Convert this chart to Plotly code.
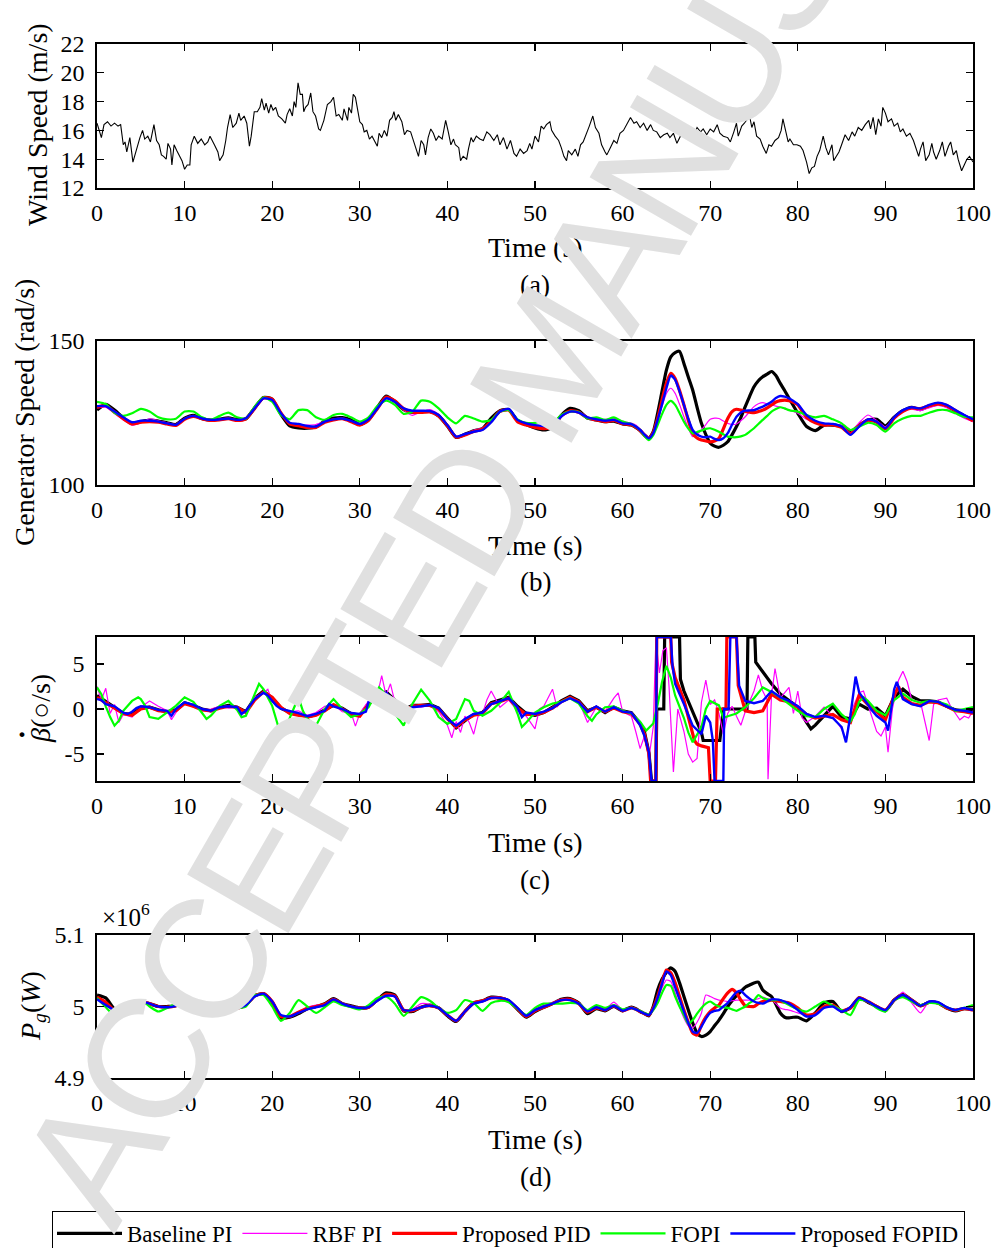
import plotly.graph_objects as go

# ---------------- data ----------------
NAMES = ["Baseline PI", "RBF PI", "Proposed PID", "FOPI", "Proposed FOPID"]
COLORS = ["#000000", "#ff00ff", "#ff0000", "#00ff00", "#0000ff"]
WIDTHS = [3.2, 1.2, 3.2, 2.2, 2.4]

X_TICKS = [0, 10, 20, 30, 40, 50, 60, 70, 80, 90, 100]

# wind speed (m/s): (time, value)
WIND = [(0,16.5),(0.3,15.8),(0.5,15.5),(0.8,16.4),(1.2,16.6),(1.6,16.3),(2.0,16.5),(2.4,16.3),(2.7,16.4),(3.0,15.0),
(3.2,15.2),(3.4,14.5),(3.75,15.5),(4.1,13.8),(4.5,14.7),(4.9,15.5),(5.2,16.0),(5.45,15.4),(5.8,15.6),(6.1,15.2),
(6.5,16.4),(6.8,15.3),(7.1,15.0),(7.35,14.3),(7.6,14.2),(7.9,14.0),(8.1,15.1),(8.4,14.7),(8.55,13.6),(8.8,15.0),
(9.1,14.6),(9.4,14.2),(9.7,13.9),(10.0,13.3),(10.3,13.6),(10.6,13.6),(10.75,15.0),(11.1,15.6),(11.5,15.1),(11.9,15.4),
(12.3,15.0),(12.65,15.2),(12.9,15.6),(13.4,15.0),(13.8,14.5),(14.0,13.9),(14.4,14.3),(14.7,15.3),(14.9,16.2),(15.2,17.1),
(15.5,16.2),(15.9,16.5),(16.2,17.2),(16.4,16.7),(16.8,17.0),(17.1,16.5),(17.2,15.9),(17.4,14.9),(17.6,15.6),(17.95,17.3),
(18.3,17.3),(18.6,17.6),(18.8,18.2),(19.1,17.4),(19.3,17.9),(19.6,17.2),(19.85,17.8),(20.1,17.4),(20.4,17.6),(20.7,17.0),
(21.1,16.8),(21.5,16.5),(21.7,17.1),(22.0,17.5),(22.3,17.0),(22.5,18.0),(22.7,17.6),(22.95,19.3),(23.2,18.5),(23.45,18.5),
(23.6,17.3),(23.8,17.6),(24.1,17.8),(24.4,18.6),(24.65,17.3),(24.95,17.0),(25.3,16.1),(25.5,16.0),(25.9,16.7),(26.3,17.8),
(26.7,18.0),(27.0,18.3),(27.3,17.0),(27.6,17.1),(28.0,16.7),(28.2,17.5),(28.6,16.7),(28.75,17.6),(29.05,17.2),(29.25,18.5),
(29.5,18.3),(29.8,17.1),(30.0,16.6),(30.3,16.4),(30.5,15.9),(30.8,16.0),(31.1,15.4),(31.4,15.6),(31.7,15.2),(32.0,14.9),
(32.2,15.8),(32.5,15.5),(32.8,16.0),(33.1,15.6),(33.4,16.7),(33.7,16.9),(33.9,17.3),(34.1,16.7),(34.4,17.1),(34.8,16.6),
(35.1,15.7),(35.4,16.0),(35.8,15.9),(36.1,15.3),(36.4,14.7),(36.7,14.2),(37.0,15.3),(37.3,15.0),(37.5,14.3),(37.8,15.5),
(38.1,16.1),(38.4,15.8),(38.7,15.3),(39.0,15.6),(39.4,15.4),(39.8,16.7),(40.1,15.9),(40.4,15.0),(40.7,15.4),(40.9,15.0),
(41.3,14.8),(41.5,13.9),(41.8,14.2),(42.2,14.0),(42.4,14.7),(42.7,15.5),(42.95,15.2),(43.3,15.6),(43.7,15.4),(44.1,15.3),
(44.5,15.9),(44.85,15.7),(45.3,15.3),(45.7,15.7),(46.0,15.0),(46.4,15.5),(46.8,14.7),(47.2,15.3),(47.6,14.4),(47.9,14.2),
(48.3,14.7),(48.7,14.4),(49.1,14.6),(49.4,15.1),(49.65,14.7),(50.0,15.6),(50.4,15.2),(50.7,16.3),(51.0,16.1),(51.3,16.4),
(51.7,16.6),(51.9,16.0),(52.3,15.6),(52.7,15.3),(53.0,14.8),(53.3,14.2),(53.6,13.9),(53.8,14.6),(54.2,14.3),(54.6,14.7),
(54.9,14.2),(55.2,15.0),(55.5,15.2),(55.9,15.8),(56.2,16.3),(56.6,17.0),(56.9,16.2),(57.3,15.8),(57.6,15.0),(58.0,14.5),
(58.2,14.3),(58.6,14.8),(59.0,15.3),(59.35,15.1),(59.7,15.8),(60.1,16.0),(60.5,16.4),(60.9,16.9),(61.3,16.5),(61.6,16.6),
(62.0,16.2),(62.4,16.5),(62.8,16.0),(63.2,16.4),(63.5,16.0),(63.9,15.9),(64.3,15.5),(64.7,15.7),(65.1,15.8),(65.4,15.5),
(65.8,15.8),(66.2,15.1),(66.6,15.6),(67.0,15.9),(67.3,15.8),(67.7,16.0),(68.1,15.6),(68.5,16.2),(68.9,15.9),(69.2,16.1),
(69.6,15.7),(70.0,16.1),(70.4,15.9),(70.8,16.4),(71.1,15.8),(71.5,15.6),(72.0,15.5),(72.3,15.2),(72.7,15.9),(73.0,16.5),
(73.2,15.6),(73.6,16.3),(73.9,16.5),(74.2,16.8),(74.5,17.0),(74.75,16.2),(75.0,16.6),(75.3,15.6),(75.7,15.4),(76.0,14.9),
(76.4,14.4),(76.7,15.0),(77.0,14.9),(77.4,15.3),(77.8,15.5),(78.1,16.0),(78.3,16.8),(78.6,16.0),(78.9,15.2),(79.1,15.4),
(79.5,15.0),(79.9,15.0),(80.3,14.9),(80.6,14.6),(81.0,13.8),(81.3,13.0),(81.6,13.4),(81.9,13.5),(82.2,14.2),(82.5,14.6),
(82.9,15.6),(83.2,14.8),(83.5,14.3),(83.9,15.0),(84.1,13.9),(84.4,14.2),(84.7,14.5),(85.0,15.0),(85.4,15.7),(85.8,15.3),
(86.2,15.9),(86.5,15.6),(86.9,16.2),(87.3,16.0),(87.7,16.4),(88.1,16.7),(88.3,16.1),(88.6,16.9),(88.9,15.7),(89.2,16.8),
(89.5,16.3),(89.7,17.6),(90.0,17.2),(90.3,16.6),(90.7,16.8),(91.0,16.3),(91.4,16.5),(91.7,15.9),(92.0,16.1),(92.4,15.6),
(92.8,15.8),(93.2,15.3),(93.5,14.8),(93.8,14.2),(94.0,14.7),(94.3,15.2),(94.6,13.9),(95.0,14.3),(95.3,15.1),(95.5,14.5),
(95.8,14.0),(96.2,14.6),(96.5,15.2),(96.8,14.2),(97.2,14.9),(97.45,15.2),(97.75,14.3),(98.1,14.6),(98.3,14.0),(98.7,13.2),
(99.0,13.6),(99.3,14.0),(99.6,14.2),(100,13.8)]

# common time grid for panels (b) and (d)
T_GRID = list(range(0, 60)) + [60 + 0.5 * i for i in range(41)] + list(range(81, 101))

# generator speed (rad/s)
B_BLACK = [126.0,128.0,126.0,123.3,121.3,122.0,122.5,122.2,121.6,121.0,
123.2,124.2,123.0,122.5,122.9,123.3,122.7,123.0,126.8,130.4,
129.8,124.5,120.5,119.8,119.7,120.2,122.2,123.2,123.4,122.6,
121.0,122.6,126.9,130.9,129.0,126.2,125.2,125.4,125.5,124.0,
120.5,116.5,117.6,118.8,119.6,123.2,125.8,126.2,122.4,121.0,
119.8,119.1,120.0,124.2,126.6,125.8,123.2,122.6,122.0,122.2,
121.2,121.0,120.8,120.0,118.9,117.3,116.2,118.5,124.9,132.5,
139.9,144.5,146.0,146.4,142.2,137.5,133.0,127.0,121.4,117.5,
114.5,113.5,113.1,113.8,115.0,117.5,120.3,123.5,127.2,130.8,
134.1,136.2,137.6,138.5,139.4,138.0,135.3,132.8,130.1,127.5,
124.9,
120.3,118.9,120.8,120.8,120.3,118.5,120.8,122.6,122.8,120.5,
123.5,125.8,127.0,126.2,127.4,128.1,127.4,125.5,124.0,122.6]
B_MAG = [126.8,127.0,124.8,122.6,120.8,121.6,123.0,122.3,121.6,121.0,
123.0,123.8,123.2,122.6,122.8,123.2,122.6,123.3,126.4,129.8,
129.6,125.2,121.6,120.8,120.8,121.0,122.0,122.8,123.0,122.2,
121.0,122.8,126.4,130.0,129.0,126.0,124.2,125.4,126.2,124.6,
120.8,116.9,117.6,119.0,119.8,122.0,125.2,126.0,122.4,121.3,
120.6,120.4,120.4,123.6,125.2,125.0,123.2,122.4,122.8,123.2,
122.2,121.8,121.5,120.8,119.4,117.8,116.6,118.3,122.6,127.3,
131.8,133.6,131.8,128.0,123.7,119.8,116.8,117.6,119.1,121.0,
122.8,123.2,123.1,122.2,121.4,121.0,121.2,122.3,123.7,125.5,
127.2,128.2,128.6,128.2,127.8,127.4,127.0,126.5,126.0,125.5,
124.9,
122.8,121.6,121.2,121.0,120.6,118.2,121.6,124.3,122.4,120.2,
123.4,125.6,126.3,125.8,126.8,127.6,126.8,124.8,123.2,122.0]
B_RED = [127.0,127.6,125.3,123.0,121.2,121.8,122.0,121.8,121.2,120.7,
122.8,123.8,123.0,122.4,122.6,123.0,122.4,123.0,126.6,130.3,
129.8,125.0,121.2,120.6,120.0,120.0,121.8,122.6,123.0,122.0,
120.8,122.5,126.5,130.5,129.2,126.5,125.3,125.2,125.4,124.0,
120.6,116.6,117.4,118.6,119.4,122.2,125.6,126.0,122.0,120.8,
120.0,119.6,120.0,124.0,125.8,125.3,123.3,122.6,122.0,122.4,
121.3,121.1,120.9,120.1,118.9,117.3,116.2,118.2,123.1,129.5,
135.3,138.8,137.0,132.8,127.8,122.5,117.9,116.3,115.6,115.3,
115.0,115.3,116.2,119.5,123.1,125.5,126.3,126.0,125.5,125.3,
125.1,125.5,126.0,126.8,127.8,128.8,129.3,129.5,129.3,128.7,
127.8,
123.5,121.6,120.8,120.9,120.0,117.8,120.6,122.5,121.8,119.5,
123.2,125.6,126.8,126.5,127.5,128.2,127.6,125.8,124.0,122.3]
B_GRN = [128.9,128.1,125.1,124.0,124.9,126.4,125.5,123.5,122.8,123.0,
125.5,125.5,123.5,122.6,124.0,125.1,123.5,123.1,127.2,130.4,
128.9,124.3,122.8,126.0,126.0,123.5,122.6,124.3,124.7,123.5,
122.0,123.5,127.4,129.3,127.8,124.7,125.5,129.3,128.9,126.6,
123.5,121.4,124.0,123.1,122.0,122.6,125.5,126.0,122.8,121.6,
121.6,122.3,121.4,124.3,125.5,125.3,123.1,123.5,122.6,123.5,
122.0,121.6,121.2,120.3,119.1,117.0,115.6,117.3,120.8,124.6,
127.8,129.2,127.8,125.0,122.0,119.6,117.9,118.4,118.9,119.5,
119.7,119.2,118.5,117.6,116.8,116.6,116.6,116.9,117.4,118.5,
119.7,121.2,122.6,124.0,125.5,126.4,127.0,126.6,126.0,125.7,
125.5,
124.3,123.5,124.0,122.8,121.4,119.1,120.3,121.6,120.8,118.5,
121.4,123.1,124.0,124.0,125.1,126.0,126.0,124.9,123.7,123.5]
B_BLUE = [127.4,127.4,125.5,123.5,121.8,122.3,122.3,122.0,121.4,120.9,
123.0,124.0,123.1,122.6,122.8,123.1,122.6,123.2,126.6,130.1,
129.5,124.9,121.6,121.2,120.5,120.3,122.0,122.8,123.1,122.3,
121.2,122.8,126.6,130.1,128.9,126.6,125.8,125.8,125.7,124.3,
120.8,116.8,117.7,118.5,119.1,121.8,125.5,126.4,122.6,121.4,
120.8,120.5,120.2,123.8,125.5,125.1,123.5,122.8,122.3,122.6,
121.4,121.3,121.1,120.3,119.1,117.5,116.2,118.0,122.6,128.0,
133.6,138.0,136.5,132.5,127.8,123.0,119.1,117.5,116.8,116.6,
116.8,116.0,115.6,116.2,118.0,121.0,123.7,125.2,125.8,125.9,
126.0,126.6,127.2,128.0,128.9,130.2,130.9,130.7,130.1,129.2,
128.1,
124.3,122.3,121.4,121.2,120.3,117.4,120.3,122.8,122.0,119.7,
123.5,126.0,127.0,126.6,127.8,128.6,127.8,126.0,124.3,122.8]

# pitch rate (deg/s): (time, value)
C_BLACK = [(0,1.5),(1,0.9),(2,0.2),(3,-0.5),(4,-0.6),(5,0.1),(6,0.2),(7,-0.1),(8,-0.3),(9,-0.1),
(10,0.7),(11,0.4),(12,0.0),(13,-0.2),(14,0.2),(15,0.4),(16,0.2),(17,-0.3),(18,1.2),(19,2.0),
(20,1.2),(21,0.1),(22,-0.4),(23,-0.6),(24,-0.9),(25,-0.6),(26,-0.1),(27,0.4),(28,0.1),(29,-0.5),
(30,-0.7),(31,0.6),(32,1.6),(33,1.9),(34,1.0),(35,-0.1),(36,0.4),(37,0.4),(38,0.5),(39,0.1),
(40,-1.0),(41,-2.1),(42,-1.3),(43,-0.6),(44,-0.4),(45,0.7),
(46,1.0),(47,1.3),(48,0.3),(49,-0.5),(50,-0.7),(51,-0.4),(52,0.2),(53,0.9),(54,1.4),(55,0.9),
(56,-0.2),(57,0.2),(58,-0.4),(59,0.2),(60,-0.2),(61,-0.4),(62,-1.6),(62.5,-2.6),(63,-4.8),(63.3,-8),
(63.8,-8),(63.9,0),(64.7,0),(64.8,8),(66.5,8),(66.6,3.3),(67,2.0),(68,-0.3),(69,-2.6),(69.2,-3.5),
(71.1,-3.5),(71.5,0),(74.2,0),(74.3,8),(75.1,8),(75.2,5.2),(76,4.1),(77,2.8),(78,1.65),(79,0.9),
(80,0.2),(81,-1.5),(81.5,-2.2),(82,-1.8),(83,-0.75),(84,0.3),(85,-0.9),(86,-1.1),(87,0.55),(88,0.0),
(89,0.1),(90,-0.75),(91,1.3),(92,2.2),(93,1.4),(94,0.9),(95,0.9),(96,0.8),(97,0.3),(98,-0.1),
(99,-0.2),(100,-0.3)]
C_MAG = [(0,2.5),(0.5,1.0),(1,2.3),(1.5,-0.5),(2,0.5),(2.5,-1.5),(3,-0.6),(4,-0.9),(5,0.2),(6,0.9),
(7,0.3),(8,-0.2),(8.5,-1.2),(9,-0.4),(10,0.6),(11,0.2),(12,-0.1),(13,0.0),(14,0.3),(15,0.1),
(16,0.2),(17,-0.3),(18,1.3),(19,1.8),(19.5,2.2),(20,0.8),(21,0.0),(22,-0.3),(23,-0.2),(24,-0.7),
(25,-0.4),(26,0.3),(27,0.5),(28,-0.3),(29,-0.4),(29.5,-1.9),(30,-0.5),(31,0.9),(32,1.5),(32.5,3.7),
(33,1.5),(33.5,2.8),(34,0.8),(35,-0.5),(36,0.5),(37,0.2),(38,0.4),(39,-0.3),(40,-1.8),(40.5,-3.2),
(41,-1.4),(41.5,-2.6),(42,-0.8),(42.5,-1.5),(43,-2.8),(43.5,-0.8),(44,-0.6),(44.5,1.0),(45,2.0),
(46,0.2),(47,1.0),(48,-0.2),(49,-0.8),(50,-2.2),(50.5,0.0),(51,0.3),(52,2.2),(52.5,0.2),(53,0.8),
(54,1.3),(55,0.9),(56,-1.5),(57,0.2),(58,-0.3),(59,1.2),(59.5,1.8),(60,-0.3),(61,-0.8),(61.5,-2.5),
(62,-4.4),(62.5,-3.0),(63,-5.5),(63.5,-2.0),(63.8,7.8),(64.2,4.0),(64.6,6.5),(65,6.8),(65.3,2.5),(65.8,-7.0),
(66.3,0.0),(67,-2.5),(67.5,-5.0),(68,-5.9),(68.5,-5.5),(69,0.75),(69.5,3.2),(70,0.5),(70.5,1.0),(71,-0.5),
(71.5,-2.8),(72,-0.5),(72.5,0.3),(73,-0.8),(73.5,-1.8),(74,-0.3),(75,2.0),(75.5,3.8),(76,2.0),(76.5,1.0),
(76.6,-7.8),(77,1.5),(77.4,4.5),(78,1.2),(79,2.4),(79.5,-0.5),(80,2.0),(80.5,-1.0),(81,-1.5),(82,-0.8),
(83,0.2),(84,-0.8),(85,-2.2),(85.5,-3.5),(86,-0.5),(87,1.8),(87.5,2.0),(88,0.5),(88.5,-1.0),(89,-2.5),
(89.5,-3.0),(90,-2.0),(90.3,-4.8),(90.8,0.0),(91.5,3.2),(92,4.2),(92.5,3.0),(93,1.0),(94,0.8),(94.5,-1.5),
(95,-3.5),(95.5,0.5),(96,1.0),(97,1.2),(97.5,0.2),(98,-0.5),(98.5,-1.2),(99,-0.8),(99.5,-1.0),(100,-0.2)]
C_RED = [(0,1.3),(1,0.7),(2,0.1),(3,-0.5),(4,-0.7),(5,0.0),(6,0.2),(7,-0.2),(8,-0.3),(9,-0.2),
(10,0.6),(11,0.3),(12,-0.1),(13,-0.2),(14,0.1),(15,0.3),(16,0.2),(17,-0.4),(18,1.0),(19,1.9),
(20,1.3),(21,0.2),(22,-0.5),(23,-0.7),(24,-0.9),(25,-0.7),(26,-0.2),(27,0.5),(28,0.0),(29,-0.6),
(30,-0.8),(31,0.5),(32,1.5),(33,1.7),(34,0.8),(35,-0.2),(36,0.3),(37,0.4),(38,0.4),(39,0.0),
(40,-1.1),(41,-2.0),(42,-1.2),(43,-0.7),(44,-0.5),(45,0.6),
(46,0.8),(47,1.2),(48,0.1),(49,-0.6),(50,-0.6),(51,-0.4),(52,0.1),(53,0.8),(54,1.3),(55,0.8),
(56,-0.3),(57,0.2),(58,-0.3),(59,0.1),(60,-0.3),(61,-0.5),(62,-1.7),(62.5,-2.8),(63,-5.0),(63.2,-8),
(63.8,-8),(63.9,8),(65.5,8),(65.6,5.2),(66,3.5),(67,1.0),(68.2,-3.5),(68.5,-3.9),(69,-4.1),(69.8,-4.3),
(70,-8),(70.6,-8),(70.8,0),(71.8,0),(71.9,8),(73.0,8),(73.2,2.6),(74,-0.2),(75,-0.4),(76,-0.2),
(77,1.65),(78,1.0),(79,0.8),(80,0.2),(81,-0.6),(82,-1.0),(83,-0.8),(84,-0.6),(85,-1.2),(86,-1.5),
(87,1.5),(88,0.5),(89,-0.3),(90,-1.2),(91,1.5),(91.5,2.5),(92,1.3),(93,0.6),(94,0.4),(95,0.8),
(96,0.7),(97,0.3),(98,-0.2),(99,-0.3),(100,-0.5)]
C_GRN = [(0,2.4),(0.5,1.65),(1,0.3),(1.5,-0.9),(2,-1.85),(2.5,-1.3),(3,-0.2),(4,0.9),(4.7,1.3),(5,1.1),
(5.5,0.35),(6,-0.9),(7,-1.1),(8,-0.4),(9,0.35),(10,1.3),(11,0.8),(12,-0.45),(12.5,-1.1),(13,-0.75),
(14,0.35),(15,0.9),(16,-0.1),(16.5,-0.9),(17,-0.75),(18,1.65),(18.5,2.8),(19,2.2),(20,0.35),(20.5,-1.3),
(21,-3.0),(22,-1.0),(23,1.3),(23.5,-0.2),(24,-1.1),(25,-1.85),(26,0.0),(27,1.1),(28,0.0),(29,-0.9),
(30,-0.55),(31,0.2),(32.2,2.4),(33,1.6),(34,-0.5),(35,-1.85),(36,0.55),(37,2.15),(38,0.9),(39,-0.9),
(40,-1.65),(41,-1.1),(42,1.1),(42.5,0.9),(43,-0.2),(44,-0.75),(45,-0.2),
(46,0.7),(47,1.9),(48,-0.5),(48.5,-2.0),(49,-1.5),(50,-0.4),(51,0.2),(52,0.6),(53,0.8),(54,1.2),
(55,0.6),(56,-0.8),(56.5,-1.3),(57,-0.6),(58,0.2),(59,0.3),(60,-0.2),(61,-0.5),(62,-1.4),(62.7,-2.4),
(63.5,-1.6),(64,0.5),(64.5,3.0),(65,4.8),(65.5,3.5),(66,1.5),(67,-1.0),(67.5,-2.6),(68,-3.7),(69,-2.0),
(69.5,0.0),(70,0.9),(71,0.4),(71.5,-1.0),(72,-0.8),(73,-0.5),(74,0.2),(75,1.2),(76,2.4),(77,1.9),
(78,1.3),(79,0.5),(80,-0.2),(81,-0.8),(82,-0.9),(83,0.0),(84,0.6),(85,-0.6),(86,-1.4),(86.5,-0.6),
(87,0.8),(87.5,1.3),(88,0.9),(89,-0.2),(90,-0.7),(91,1.0),(92,1.7),(93,1.0),(94,0.7),(95,0.9),
(96,0.8),(97,0.5),(98,-0.2),(99,0.0),(100,0.2)]
C_BLUE = [(0,1.1),(0.5,1.0),(1,0.55),(2,0.3),(3,-0.4),(3.5,-0.55),(4,-0.3),(4.5,0.1),(5,0.3),(6,0.2),
(7,-0.1),(8,-0.2),(8.5,-0.75),(9,0.0),(10,0.75),(11,0.45),(12,0.0),(13,-0.2),(14,0.2),(15,0.3),
(16,0.2),(16.5,-0.55),(17,-0.2),(18,1.1),(19,1.8),(19.5,1.5),(20,0.9),(20.5,0.35),(21,0.0),(22,-0.25),
(22.5,-0.3),(23,-0.45),(24,-0.8),(25,-0.55),(26,-0.2),(26.5,0.55),(27,0.3),(28,0.0),(29,-0.45),(30,-0.55),
(30.7,-0.3),(31,0.8),(31.5,1.0),(32,1.3),(33,1.8),(34,0.8),(35,-0.2),(35.3,-0.1),(36,0.2),(37,0.3),
(38,0.45),(39,0.1),(40,-1.1),(41,-1.85),(42,-1.1),(43,-0.55),(44,-0.4),(45,0.55),
(46,0.9),(47,1.2),(48,0.2),(48.5,-0.9),(49,-0.4),(50,-0.55),(51,-0.3),(52,0.1),(53,0.75),(54,1.2),
(55,0.75),(56,-0.3),(57,0.3),(58,-0.3),(59,0.2),(60,-0.3),(61,-0.4),(62,-1.8),(62.5,-3.0),(63,-4.8),
(63.3,-8),(63.8,-8),(63.9,8),(65.5,8),(65.7,4.8),(66,2.8),(67,0.55),(68,-1.85),(69,-2.8),(69.5,-0.75),
(70,-1.5),(70.3,-3.5),(70.5,-8),(71.5,-8),(71.6,0),(72.1,0),(72.3,8),(73.0,8),(73.3,2.6),(74,0.9),
(75,0.65),(76,0.9),(77,2.0),(78,1.3),(79,0.9),(80,0.3),(81,-0.55),(82,-0.9),(83,-0.75),(84,-1.0),
(85,-2.0),(85.5,-3.7),(86,-0.75),(86.6,3.6),(87,1.85),(88,0.45),(88.5,-0.2),(89,-0.75),(90,-1.5),(90.3,-2.4),
(91,2.2),(91.3,3.0),(92,1.1),(93,0.55),(94,0.3),(95,0.9),(96,0.8),(97,0.3),(98,-0.1),(99,-0.2),
(100,-0.4)]

# generator power (x 10^6 W)
D_BLACK = [5.016,5.012,4.996,4.991,4.992,5.006,5.004,5.000,5.000,5.001,
5.008,5.006,4.999,4.999,5.004,5.002,4.998,5.002,5.015,5.018,
5.006,4.984,4.985,4.990,4.997,5.000,5.004,5.011,5.004,5.001,
4.998,4.999,5.009,5.019,5.016,4.994,4.993,4.999,5.002,4.998,
4.987,4.979,4.993,5.005,5.008,5.013,5.012,5.008,4.996,4.985,
4.993,4.999,5.004,5.010,5.011,5.005,4.990,4.997,4.994,5.000,
4.994,4.997,4.999,4.997,4.993,4.990,4.987,5.000,5.023,5.038,
5.048,5.054,5.049,5.033,5.014,4.995,4.977,4.963,4.958,4.960,
4.965,4.973,4.981,4.990,5.000,5.008,5.015,5.021,5.027,5.030,
5.033,5.034,5.023,5.018,5.014,5.003,4.991,4.985,4.984,4.985,
4.985,
4.980,4.991,5.005,5.007,4.993,4.998,5.012,5.006,5.000,4.994,
5.009,5.017,5.009,5.001,5.006,5.005,4.998,4.994,4.997,4.996]
D_MAG = [5.011,5.003,4.993,4.989,4.994,5.008,5.005,5.000,4.999,5.001,
5.008,5.006,4.999,4.999,5.004,5.002,4.998,5.002,5.014,5.018,
5.007,4.987,4.987,4.993,4.999,5.002,5.003,5.009,5.004,5.000,
4.998,4.999,5.008,5.015,5.013,4.993,4.996,5.004,5.003,4.998,
4.987,4.979,4.992,5.004,5.007,5.012,5.012,5.009,4.998,4.988,
4.996,5.002,5.006,5.010,5.009,5.004,4.993,4.999,4.996,5.006,
4.995,4.997,4.999,4.997,4.994,4.991,4.989,4.998,5.012,5.026,
5.037,5.035,5.019,5.000,4.984,4.973,4.970,4.978,4.991,5.016,
5.014,5.011,5.009,5.008,5.007,5.008,5.009,5.009,5.009,5.009,
5.009,5.011,5.013,5.011,5.009,5.004,4.998,4.996,4.995,4.993,
4.991,
4.988,4.990,4.999,5.001,4.994,4.999,5.012,5.007,5.000,4.994,
5.008,5.020,5.005,4.991,5.007,5.006,4.999,4.994,4.997,4.996]
D_RED = [5.013,5.006,4.994,4.991,4.993,5.006,5.004,5.000,4.999,5.001,
5.008,5.006,4.999,4.999,5.004,5.002,4.998,5.002,5.015,5.018,
5.007,4.986,4.986,4.992,4.997,5.000,5.003,5.010,5.004,5.000,
4.998,4.999,5.009,5.017,5.015,4.995,4.994,4.999,5.001,4.998,
4.988,4.980,4.993,5.005,5.008,5.012,5.012,5.008,4.997,4.986,
4.994,4.999,5.004,5.009,5.010,5.004,4.992,4.998,4.995,5.001,
4.994,4.996,4.998,4.996,4.993,4.990,4.988,4.998,5.014,5.034,
5.051,5.047,5.033,5.014,4.995,4.978,4.963,4.960,4.974,4.985,
4.993,4.998,5.002,5.011,5.019,5.024,5.019,5.009,5.001,5.000,
5.000,5.004,5.007,5.008,5.009,5.008,5.007,5.006,5.005,5.002,
4.998,
4.988,4.990,5.000,5.002,4.994,4.998,5.012,5.007,5.000,4.995,
5.009,5.016,5.009,5.001,5.006,5.005,4.998,4.995,4.997,4.995]
D_GRN = [5.012,4.999,4.988,4.999,5.005,5.009,5.000,4.993,4.998,5.004,
5.009,5.007,4.998,4.994,5.005,5.005,4.998,5.000,5.016,5.016,
5.000,4.980,4.991,5.009,5.000,4.991,4.999,5.007,5.002,4.999,
4.996,5.002,5.012,5.014,5.004,4.987,5.000,5.013,5.008,4.998,
4.991,4.995,5.009,5.005,4.994,5.005,5.008,5.006,4.997,4.988,
4.998,5.004,5.004,5.004,5.005,5.004,4.995,5.002,4.998,5.002,
4.996,4.997,4.998,4.996,4.994,4.991,4.989,4.995,5.005,5.019,
5.030,5.029,5.014,5.000,4.988,4.976,4.981,4.990,4.998,5.004,
5.007,5.003,5.000,4.999,4.998,4.996,4.994,4.997,5.000,5.005,
5.009,5.016,5.012,5.010,5.009,5.009,5.009,5.005,5.002,4.999,
4.996,
4.993,5.000,5.007,5.001,4.995,4.988,5.009,5.007,4.998,4.993,
5.009,5.013,5.007,5.002,5.005,5.004,4.999,4.995,4.998,5.002]
D_BLUE = [5.010,5.002,4.995,4.992,4.993,5.007,5.004,5.000,4.999,5.001,
5.008,5.006,4.999,4.999,5.004,5.002,4.998,5.002,5.014,5.018,
5.007,4.988,4.986,4.991,4.996,4.999,5.002,5.010,5.004,5.000,
4.998,4.999,5.008,5.015,5.014,4.995,4.995,4.999,5.001,4.998,
4.988,4.980,4.993,5.004,5.007,5.012,5.012,5.009,4.998,4.987,
4.995,5.000,5.004,5.009,5.009,5.004,4.993,4.999,4.995,5.001,
4.994,4.996,4.998,4.996,4.993,4.990,4.988,4.997,5.012,5.032,
5.049,5.044,5.027,5.010,4.993,4.977,4.965,4.963,4.972,4.983,
4.991,4.994,4.995,5.000,5.005,5.013,5.020,5.022,5.016,5.011,
5.007,5.005,5.004,5.007,5.010,5.010,5.009,5.007,5.004,5.000,
4.995,
4.986,4.988,4.998,5.000,4.993,4.999,5.012,5.007,5.000,4.995,
5.009,5.016,5.009,5.001,5.007,5.006,4.999,4.995,4.998,4.995]

for arr in (B_BLACK, B_MAG, B_RED, B_GRN, B_BLUE, D_BLACK, D_MAG, D_RED, D_GRN, D_BLUE):
    if len(arr) != len(T_GRID):
        raise ValueError("length mismatch %d vs %d" % (len(arr), len(T_GRID)))

# ---------------- figure ----------------
W, H = 994, 1248
PX_L, PX_R = 97, 973
PANELS = [(44, 188), (341, 485), (637, 781), (935, 1078)]
SERIF = "Liberation Serif"

fig = go.Figure()

def xs(pairs):
    return [p[0] for p in pairs]

def ys(pairs):
    return [p[1] for p in pairs]

# (a) wind
fig.add_trace(go.Scatter(x=xs(WIND), y=ys(WIND), mode="lines",
                         line=dict(color="black", width=1.1),
                         showlegend=False, xaxis="x", yaxis="y"))

B_SET = [B_BLACK, B_MAG, B_RED, B_GRN, B_BLUE]
C_SET = [C_BLACK, C_MAG, C_RED, C_GRN, C_BLUE]
D_SET = [D_BLACK, D_MAG, D_RED, D_GRN, D_BLUE]

for i in range(5):
    fig.add_trace(go.Scatter(x=T_GRID, y=B_SET[i], mode="lines", name=NAMES[i],
                             legendgroup=NAMES[i], showlegend=True,
                             line=dict(color=COLORS[i], width=WIDTHS[i], shape="spline", smoothing=0.6),
                             xaxis="x2", yaxis="y2"))
for i in range(5):
    fig.add_trace(go.Scatter(x=xs(C_SET[i]), y=ys(C_SET[i]), mode="lines", name=NAMES[i],
                             legendgroup=NAMES[i], showlegend=False,
                             line=dict(color=COLORS[i], width=WIDTHS[i]),
                             xaxis="x3", yaxis="y3"))
for i in range(5):
    fig.add_trace(go.Scatter(x=T_GRID, y=D_SET[i], mode="lines", name=NAMES[i],
                             legendgroup=NAMES[i], showlegend=False,
                             line=dict(color=COLORS[i], width=WIDTHS[i], shape="spline", smoothing=0.6),
                             xaxis="x4", yaxis="y4"))

TICKFONT = dict(family=SERIF, size=24, color="black")

def xaxis_cfg(anchor):
    return dict(domain=[PX_L / W, PX_R / W], range=[0, 100], anchor=anchor, automargin=False,
                tickmode="array", tickvals=X_TICKS, ticktext=[str(v) for v in X_TICKS],
                ticks="inside", ticklen=7, tickwidth=1.2, tickcolor="black",
                showline=True, linecolor="black", linewidth=1.6, mirror="ticks",
                showgrid=False, zeroline=False, ticklabelstandoff=3,
                tickfont=TICKFONT)

def yaxis_cfg(anchor, top, bottom, rng, tv, tt):
    return dict(domain=[1 - bottom / H, 1 - top / H], range=rng, anchor=anchor, automargin=False,
                tickmode="array", tickvals=tv, ticktext=tt,
                ticks="inside", ticklen=7, tickwidth=1.2, tickcolor="black",
                showline=True, linecolor="black", linewidth=1.6, mirror="ticks",
                showgrid=False, zeroline=False, ticklabelstandoff=6,
                tickfont=TICKFONT)

fig.update_layout(
    template="none",
    font=dict(family=SERIF, size=24, color="black"),
    xaxis=xaxis_cfg("y"), xaxis2=xaxis_cfg("y2"), xaxis3=xaxis_cfg("y3"), xaxis4=xaxis_cfg("y4"),
    yaxis=yaxis_cfg("x", *PANELS[0], [12, 22], [12, 14, 16, 18, 20, 22], ["12", "14", "16", "18", "20", "22"]),
    yaxis2=yaxis_cfg("x2", *PANELS[1], [100, 150], [100, 150], ["100", "150"]),
    yaxis3=yaxis_cfg("x3", *PANELS[2], [-8, 8], [-5, 0, 5], ["-5", "0", "5"]),
    yaxis4=yaxis_cfg("x4", *PANELS[3], [4.9, 5.1], [4.9, 5.0, 5.1], ["4.9", "5", "5.1"]),
)

annotations = []
cx = (PX_L + PX_R) / 2 / W
time_y = [248, 545, 842, 1139]
lab_y = [285, 582, 880, 1177]
for k, lab in enumerate(["(a)", "(b)", "(c)", "(d)"]):
    annotations.append(dict(text="Time (s)", x=cx, y=1 - time_y[k] / H, xref="paper", yref="paper",
                            showarrow=False, xanchor="center", yanchor="middle",
                            font=dict(family=SERIF, size=28, color="black")))
    annotations.append(dict(text=lab, x=cx, y=1 - lab_y[k] / H, xref="paper", yref="paper",
                            showarrow=False, xanchor="center", yanchor="middle",
                            font=dict(family=SERIF, size=27, color="black")))

ytitles = [("Wind Speed (m/s)", 38, 125), ("Generator Speed (rad/s)", 24, 413),
           ("<i>\u03b2</i>(\u25cb/s)", 40, 709),
           ("<i>P<sub>g</sub></i>(<i>W</i>)", 32, 1006)]
for txt, px, py in ytitles:
    annotations.append(dict(text=txt, x=px / W, y=1 - py / H, xref="paper", yref="paper",
                            showarrow=False, xanchor="center", yanchor="middle", textangle=-90,
                            font=dict(family=SERIF, size=28, color="black")))
# dot over beta (time derivative)
annotations.append(dict(text="<b>\u00b7</b>", x=22 / W, y=1 - 733 / H, xref="paper", yref="paper",
                        showarrow=False, xanchor="center", yanchor="middle",
                        font=dict(family=SERIF, size=30, color="black")))

annotations.append(dict(text="\u00d710<sup>6</sup>", x=100 / W, y=1 - 915 / H, xref="paper", yref="paper",
                        showarrow=False, xanchor="left", yanchor="middle",
                        font=dict(family=SERIF, size=25, color="black")))

# watermark
annotations.append(dict(text='<span style="letter-spacing:-8px">ACCEPTED MANUSCRIPT</span>',
                        x=550 / W, y=1 - 362 / H, xref="paper", yref="paper",
                        showarrow=False, xanchor="center", yanchor="middle", textangle=-60,
                        font=dict(family="Liberation Sans", size=170,
                                  color="rgb(224,224,224)")))

fig.update_layout(
    annotations=annotations,
    width=W, height=H, margin=dict(l=0, r=0, t=0, b=0, autoexpand=False),
    paper_bgcolor="white", plot_bgcolor="white",
    showlegend=True,
    legend=dict(orientation="h", x=52 / W, xanchor="left", y=1 - 1211 / H, yanchor="top",
                bordercolor="black", borderwidth=1, bgcolor="white", itemwidth=65,
                font=dict(family=SERIF, size=23, color="black"), tracegroupgap=0),
    hovermode=False,
)

fig.write_html("out.html", config={"displayModeBar": False, "staticPlot": True},
               post_script="document.body.style.margin='0px';document.body.style.overflow='hidden';")
